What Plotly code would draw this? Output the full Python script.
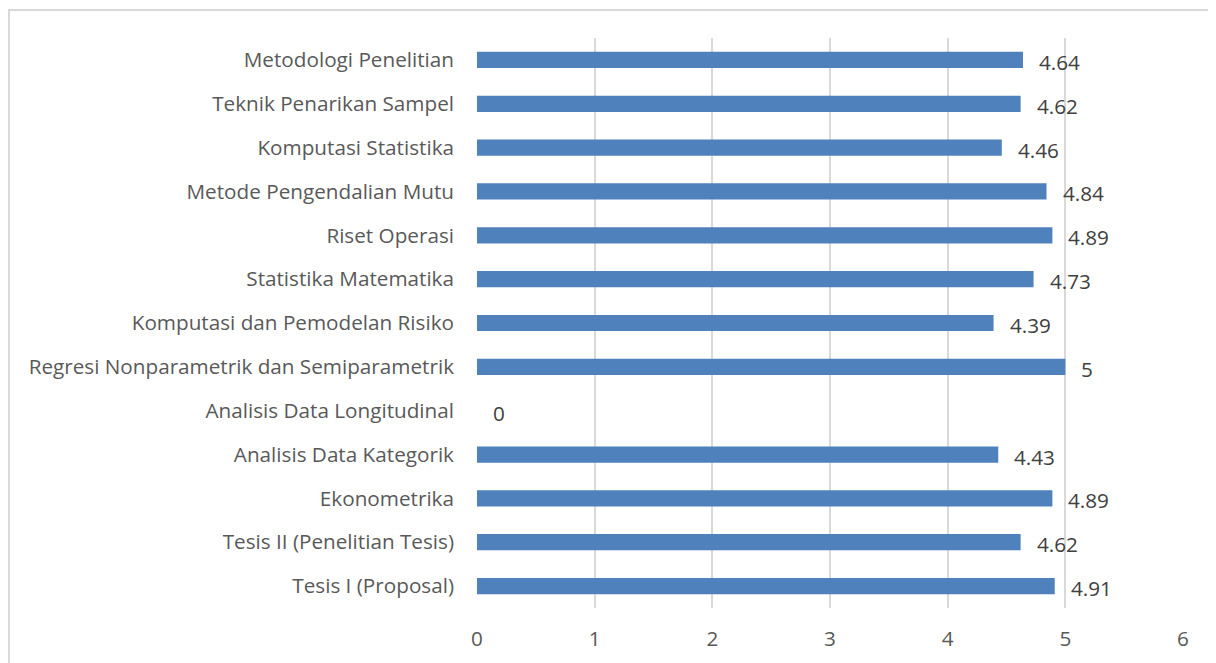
import plotly.graph_objects as go

categories = [
    "Metodologi Penelitian",
    "Teknik Penarikan Sampel",
    "Komputasi Statistika",
    "Metode Pengendalian Mutu",
    "Riset Operasi",
    "Statistika Matematika",
    "Komputasi dan Pemodelan Risiko",
    "Regresi Nonparametrik dan Semiparametrik",
    "Analisis Data Longitudinal",
    "Analisis Data Kategorik",
    "Ekonometrika",
    "Tesis II (Penelitian Tesis)",
    "Tesis I (Proposal)",
]
values = [4.64, 4.62, 4.46, 4.84, 4.89, 4.73, 4.39, 5, 0, 4.43, 4.89, 4.62, 4.91]
labels = ["4.64", "4.62", "4.46", "4.84", "4.89", "4.73", "4.39", "5", "0", "4.43", "4.89", "4.62", "4.91"]
x_ticks = [0, 1, 2, 3, 4, 5, 6]

FONT = "Open Sans"
FS = 20.7

fig = go.Figure()
fig.add_trace(go.Bar(
    y=categories, x=values, orientation="h",
    marker=dict(color="#4F81BD", line=dict(width=0)),
    width=0.37, hoverinfo="skip",
))

for c, v, t in zip(categories, values, labels):
    fig.add_annotation(x=v, y=c, text=t, showarrow=False, xanchor="left",
                       xshift=14, yshift=-2,
                       font=dict(family=FONT, size=FS, color="#404040"))

# chart border (left and top visible)
fig.add_shape(type="rect", xref="paper", yref="paper",
              x0=-0.663, x1=1.2, y0=-0.3, y1=1.049,
              line=dict(color="#D9D9D9", width=2), layer="below")

fig.update_layout(
    width=1208, height=655,
    margin=dict(l=469, r=33, t=30, b=55),
    paper_bgcolor="white", plot_bgcolor="white",
    showlegend=False,
    font=dict(family=FONT, size=FS, color="#595959"),
    xaxis=dict(range=[0, 6], tickvals=x_ticks, ticktext=[str(t) for t in x_ticks],
               showgrid=True, gridcolor="#D9D9D9", gridwidth=1.5,
               zeroline=False, showline=False, ticks="",
               ticklabelstandoff=16,
               tickfont=dict(family=FONT, size=FS, color="#595959")),
    yaxis=dict(categoryorder="array", categoryarray=categories,
               autorange="reversed", showgrid=False, zeroline=False,
               showline=False, ticks="", ticklabelstandoff=22,
               tickfont=dict(family=FONT, size=FS, color="#595959")),
)

fig.write_html("out.html")
